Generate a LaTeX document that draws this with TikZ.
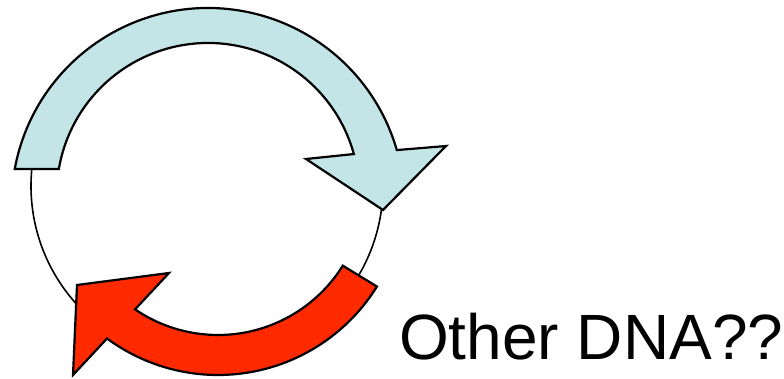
\documentclass[tikz,border=0pt]{standalone}
\usepackage{fontspec}
\setmainfont{Liberation Sans}
\usetikzlibrary{calc}
\definecolor{bluefill}{RGB}{196,229,232}
\definecolor{redfill}{RGB}{255,42,0}
\begin{document}
\begin{tikzpicture}[x=1pt,y=1pt,
  arrowshape/.style={draw=black,line width=2.2pt,line join=miter},
  ring/.style={draw=black,line width=1.6pt}]
\useasboundingbox (0,0) rectangle (784,379);
% centres
\coordinate (ringc) at (207,193);
\coordinate (bo) at (208,174.5);
\coordinate (bi) at (208,184.7);
\coordinate (rc) at (218,191);
% thin ring
\draw[ring] (ringc) circle[radius=176];
% blue arrow
\draw[arrowshape,fill=bluefill] ($(bo)+(169.58:196.5)$)
  arc[start angle=169.58,end angle=16.08,radius=196.5]
  -- (446,233) -- (383,169) -- (306,220)
  -- ($(bi)+(15.43:151.3)$)
  arc[start angle=15.43,end angle=170.36,radius=151.3]
  -- cycle;
% red arrow
\draw[arrowshape,fill=redfill] ($(rc)+(-31.8:187)$)
  arc[start angle=-31.8,end angle=-126.4,radius=187]
  -- (73,4) -- (77,94) -- (169,106)
  -- ($(rc)+(-124.35:147)$)
  arc[start angle=-124.35,end angle=-31.9,radius=147]
  -- cycle;
\node[anchor=base west,inner sep=0pt,font=\fontsize{64}{70}\selectfont] (label) at (399,19) {Other DNA??};
\end{tikzpicture}
\end{document}
